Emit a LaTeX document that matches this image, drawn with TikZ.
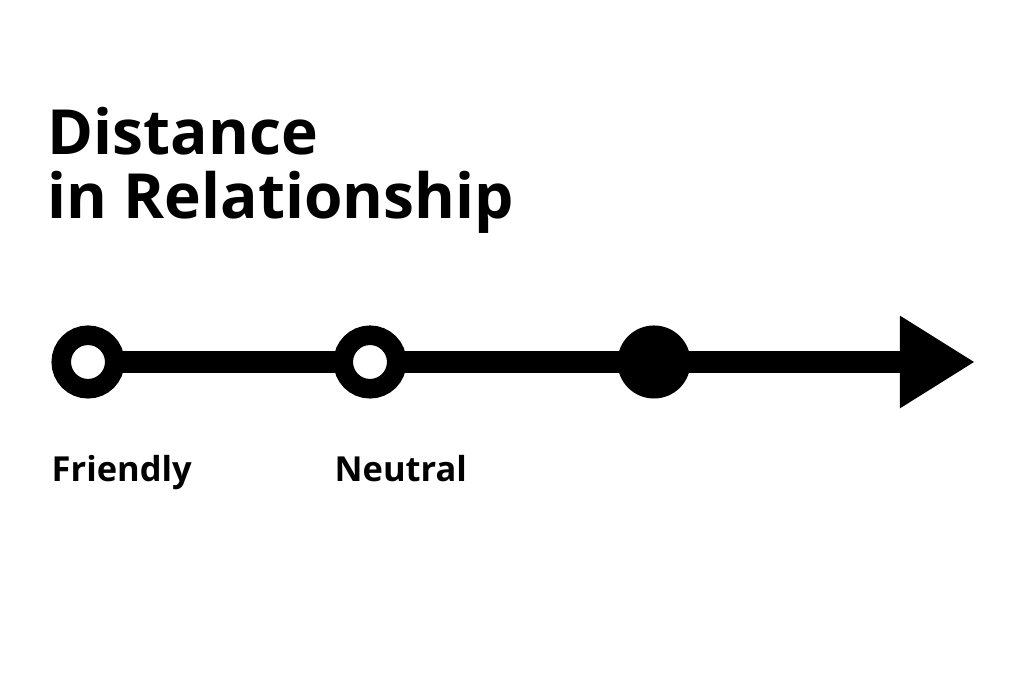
\documentclass[tikz,border=0pt]{standalone}
\usepackage{fontspec}
\setmainfont{Open Sans}
\usepackage{tikz}
\usetikzlibrary{calc, positioning, arrows.meta, backgrounds}

\begin{document}
\begin{tikzpicture}[
  x=0.01cm, y=-0.01cm,
  ring/.style={circle, draw=black, fill=white, line width=1.95mm, minimum size=5.35mm, inner sep=0pt},
  dot/.style={circle, fill=black, minimum size=7.3mm, inner sep=0pt},
  axis/.style={line width=2.2mm, black},
  lbl/.style={anchor=base west, inner sep=0pt, font=\fontsize{9.8pt}{11pt}\selectfont\bfseries},
  ttl/.style={anchor=base west, inner sep=0pt, align=left, font=\fontsize{17.7pt}{18.2pt}\selectfont\bfseries}
]
  % title (base = last line)
  \node[ttl] (title) at (47,219) {Distance\\in Relationship};

  % scale points
  \coordinate (tip) at (975,362);
  \node[ring] (friendly) at (88,362) {};
  \node[ring] (neutral) at (370,362) {};
  \node[dot] (far) at (654,362) {};

  % labels
  \node[lbl] (lfriendly) at (51,482) {Friendly};
  \node[lbl] (lneutral) at (334,482) {Neutral};

  \begin{scope}[on background layer]
    \fill[white] (0,0) rectangle (1024,683);
    \draw[axis] (friendly.center) -- (neutral.center);
    \draw[axis] (neutral.center) -- (far.center);
    \draw[axis, -{Triangle[length=7.5mm, width=8.7mm]}] (far.center) -- (tip);
  \end{scope}
  \useasboundingbox (0,0) rectangle (1024,683);
\end{tikzpicture}
\end{document}
